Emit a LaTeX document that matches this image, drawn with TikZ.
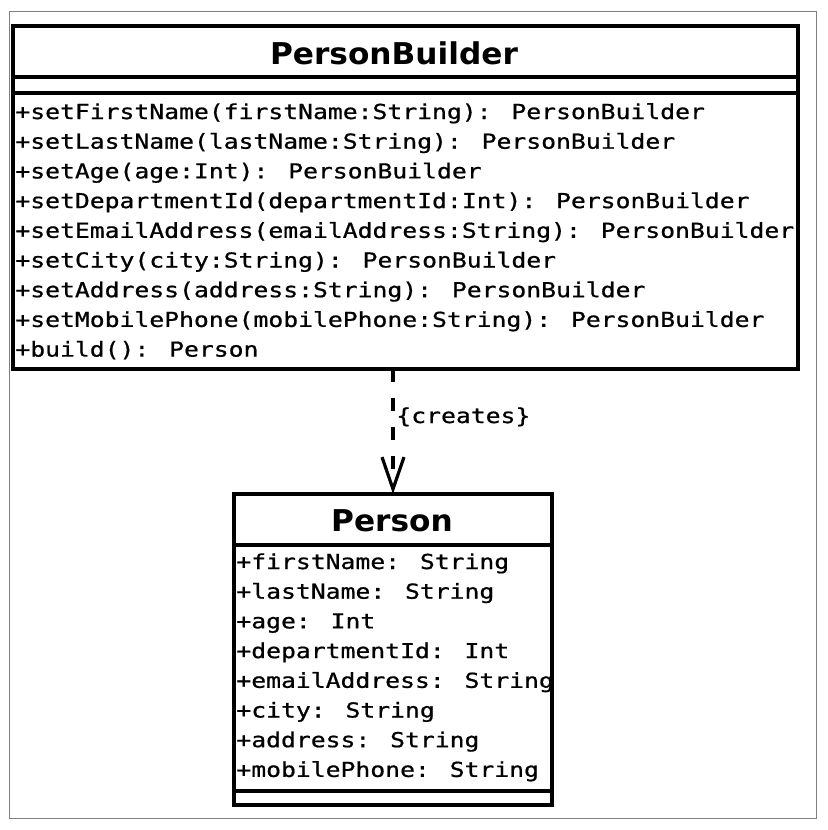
\documentclass[tikz,border=0pt]{standalone}
\usepackage{fontspec}
\usepackage{tikz}
\usetikzlibrary{arrows.meta}
\usepackage{xcolor}
\newfontfamily\umlmono[FakeStretch=1.2,FakeBold=0.8]{DejaVu Sans Mono}
\newfontfamily\umlsans[FakeStretch=1.04]{DejaVu Sans}
\definecolor{FrameCol}{RGB}{128,128,128}
\tikzstyle{ClassBox}=[rectangle,draw=black,line width=2pt,inner sep=0pt,outer sep=0pt]
\tikzstyle{ClassLine}=[black,line width=1.6pt]
\tikzstyle{ClassTitle}=[anchor=base,inner sep=0pt,font=\umlsans\bfseries\fontsize{15}{16}\selectfont]
\tikzstyle{MemberText}=[anchor=base west,inner sep=0pt,font=\umlmono\fontsize{10.3}{12}\selectfont]
\tikzstyle{DepArrow}=[black,line width=2pt,dash pattern=on 6.5pt off 8pt,
-{Straight Barb[length=16pt,width=11pt,line width=1.6pt]}]

\begin{document}
\begin{tikzpicture}[x=.5pt,y=-.5pt]
        \useasboundingbox (0,0) rectangle (828,830);
        \draw[FrameCol,line width=.5pt] (9.5,11) rectangle (816,818);
        \node[ClassBox,minimum width=392.5pt,minimum height=171.5pt](builder)at(405.5,197.5){};
        \draw[ClassLine](builder.west|-0,77)--(builder.east|-0,77);
        \draw[ClassLine](builder.west|-0,93)--(builder.east|-0,93);
        \node[ClassTitle](bname)at(394,64){PersonBuilder};
        \node[MemberText](m1)at(15,119){+setFirstName(firstName:String): PersonBuilder};
        \node[MemberText](m2)at(15,148.7){+setLastName(lastName:String): PersonBuilder};
        \node[MemberText](m3)at(15,178.4){+setAge(age:Int): PersonBuilder};
        \node[MemberText](m4)at(15,208.1){+setDepartmentId(departmentId:Int): PersonBuilder};
        \node[MemberText](m5)at(15,237.8){+setEmailAddress(emailAddress:String): PersonBuilder};
        \node[MemberText](m6)at(15,267.5){+setCity(city:String): PersonBuilder};
        \node[MemberText](m7)at(15,297.2){+setAddress(address:String): PersonBuilder};
        \node[MemberText](m8)at(15,326.9){+setMobilePhone(mobilePhone:String): PersonBuilder};
        \node[MemberText](m9)at(15,356.6){+build(): Person};
        \node[ClassBox,minimum width=159pt,minimum height=155.5pt](person)at(393,649.5){};
        \draw[ClassLine](person.west|-0,545)--(person.east|-0,545);
        \draw[ClassLine](person.west|-0,791)--(person.east|-0,791);
        \node[ClassTitle](pname)at(392,531){Person};
        \node[MemberText](a1)at(236,569){+firstName: String};
        \node[MemberText](a2)at(236,598.7){+lastName: String};
        \node[MemberText](a3)at(236,628.4){+age: Int};
        \node[MemberText](a4)at(236,658.1){+departmentId: Int};
        \node[MemberText](a5)at(236,687.8){+emailAddress: String};
        \node[MemberText](a6)at(236,717.5){+city: String};
        \node[MemberText](a7)at(236,747.2){+address: String};
        \node[MemberText](a8)at(236,776.9){+mobilePhone: String};
        \draw[DepArrow](person.north|-builder.south)--(person.north);
        \node[MemberText](creates)at(396,423){\{creates\}};
    \end{tikzpicture}
\end{document}
